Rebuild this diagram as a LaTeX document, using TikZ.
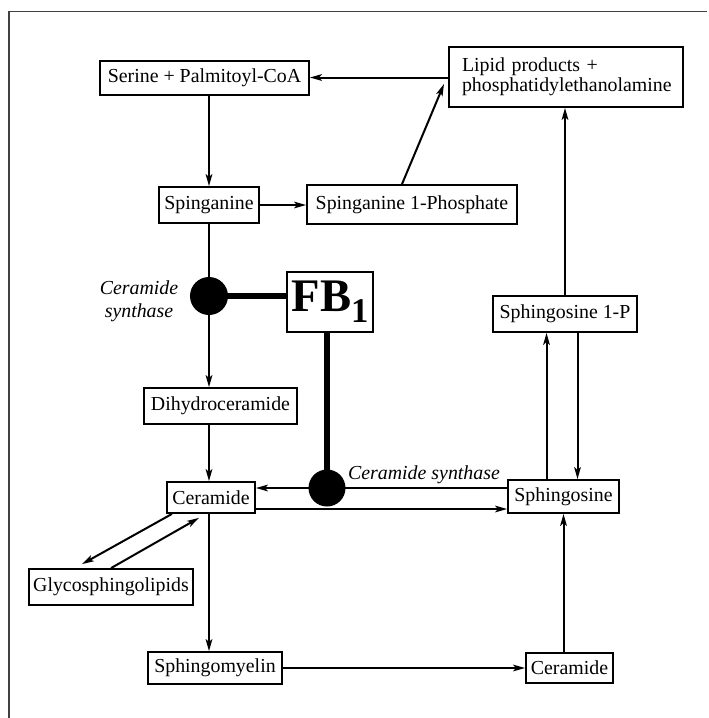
\documentclass[tikz,border=0pt]{standalone}
\usepackage{fontspec}
\setmainfont{Liberation Serif}
\usetikzlibrary{arrows.meta,calc}
\def\px{0.75pt}
\begin{document}
\begin{tikzpicture}[x=0.75pt,y=-0.75pt,
  every node/.style={font=\fontsize{14.9}{17}\selectfont},
  box/.style={draw,line width=1.35pt,inner sep=0pt,align=center},
  arr/.style={line width=1.5pt,-{Stealth[length=9pt,width=5pt,inset=2.2pt]}},
  ln/.style={line width=1.5pt},
  thk/.style={line width=3.8pt},
  dot/.style={circle,fill=black,inner sep=0pt},
  lab/.style={font=\fontsize{14.9}{17}\selectfont\itshape,align=center,inner sep=0pt},
  frame/.style={draw=black!75,line width=1.4pt}]
\useasboundingbox (0,0) rectangle (708,718);
\draw[frame] (9,718) -- (9,11.5) -- (707,11.5);

% boxes
\node[box,minimum width=209*\px,minimum height=34*\px] (serine) at (204.5,78) {Serine + Palmitoyl-CoA};
\node[box,minimum width=100*\px,minimum height=36*\px] (spin) at (209,205) {Spinganine};
\node[box,minimum width=210*\px,minimum height=39*\px] (spinP) at (412,204.5) {Spinganine 1-Phosphate};
\node[box,minimum width=234*\px,minimum height=60*\px,text width=208*\px,align=left] (lipid) at (566,77) {Lipid products +\\[-2pt]phosphatidylethanolamine};
\node[box,minimum width=144*\px,minimum height=36*\px] (sph1p) at (565,314) {Sphingosine 1-P};
\node[box,minimum width=111*\px,minimum height=33*\px] (sph) at (563.5,496.5) {Sphingosine};
\node[box,minimum width=87*\px,minimum height=30*\px] (cerR) at (569.5,668) {Ceramide};
\node[box,minimum width=134*\px,minimum height=32*\px] (smy) at (215,668) {Sphingomyelin};
\node[box,minimum width=164*\px,minimum height=36*\px] (glyco) at (111,587) {Glycosphingolipids};
\node[box,minimum width=88*\px,minimum height=31*\px] (cerL) at (211,497.5) {Ceramide};
\node[box,minimum width=153*\px,minimum height=36*\px] (dihydro) at (220.5,406) {Dihydroceramide};
\node[box,minimum width=86*\px,minimum height=60*\px,font=\fontsize{35}{36}\selectfont\bfseries] (fb) at (330,302)
  {FB\raisebox{-8pt}{\fontsize{26}{26}\selectfont\bfseries 1}};

% coordinates
\coordinate (c1) at (209,296);
\coordinate (c2) at (327,488);
\coordinate (lj1) at (445,77.5);
\coordinate (lj2) at (444,84);

% connectors
\draw[arr] (spin.north |- serine.south) -- (spin.north);
\draw[arr] (lj1 -| lipid.west) -- (lj1) -- (lj1 -| serine.east);
\draw[arr] ([xshift=-10*\px]spinP.north) -- (lj2);
\draw[arr] (spin.east) -- (spin.east -| spinP.west);
\draw[ln] (spin.south) -- (c1);
\draw[arr] (c1) -- (c1 |- dihydro.north);
\draw[arr] (c1 |- dihydro.south) -- (c1 |- cerL.north);
\draw[thk] (c1) -- (c1 -| fb.west);
\draw[thk] (c2 |- fb.south) -- (c2);
\draw[arr] (c2 -| sph.west) -- (c2 -| cerL.east);
\draw[arr] ([yshift=-11.5*\px]cerL.east) -- ([yshift=-11.5*\px]cerL.east -| sph.west);
\draw[arr] ([xshift=-39*\px]cerL.south) -- ([xshift=-29*\px,yshift=4*\px]glyco.north);
\draw[arr] (glyco.north) -- ([xshift=-12*\px,yshift=-4*\px]cerL.south);
\draw[arr] (c1 |- cerL.south) -- (c1 |- smy.north);
\draw[arr] (smy.east) -- (smy.east -| cerR.west);
\draw[arr] (sph.south |- cerR.north) -- (sph.south);
\draw[arr] ([xshift=-17*\px]sph.north) -- ([xshift=-17*\px]sph.north |- sph1p.south);
\draw[arr] ([xshift=14*\px]sph.north |- sph1p.south) -- ([xshift=14*\px]sph.north);
\draw[arr] (sph1p.north) -- (sph1p.north |- lipid.south);

% inhibitor dots
\node[dot,minimum size=38*\px] (d1) at (c1) {};
\node[dot,minimum size=37*\px] (d2) at (c2) {};

% labels
\node[lab] (lab1) at (139,301) {Ceramide\\synthase};
\node[lab,anchor=base] (lab2) at (424,479) {Ceramide synthase};
\end{tikzpicture}
\end{document}
